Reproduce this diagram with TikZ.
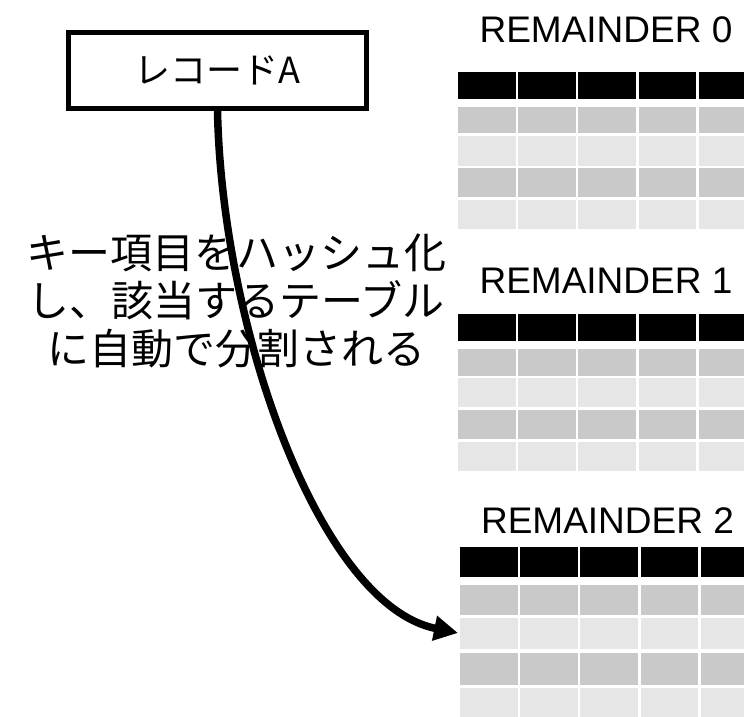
\documentclass[tikz,border=0pt]{standalone}
\usepackage{fontspec}
\setmainfont{Liberation Sans}
\newfontfamily\jp{Noto Sans CJK JP}
\usetikzlibrary{arrows.meta}
\definecolor{hdrc}{HTML}{000000}
\definecolor{dkc}{HTML}{C9C9C9}
\definecolor{ltc}{HTML}{E6E6E6}
\begin{document}
\begin{tikzpicture}[x=1pt,y=-1pt,
  recbox/.style={draw, line width=5pt, minimum width=298pt, minimum height=76pt, inner sep=0pt, font=\jp\fontsize{36}{42}\selectfont},
  remlabel/.style={anchor=base, inner sep=0pt, font=\fontsize{37}{44}\selectfont},
  desc/.style={align=center, inner sep=0pt, font=\jp\fontsize{42}{48}\selectfont},
  flow/.style={line width=7.5pt, -{Triangle[length=24pt,width=24pt]}}]
\clip (0,0) rectangle (744,717);
\fill[white] (0,0) rectangle (744,717);
% table 0
\foreach \ya/\yb/\c in {72/98.7/hdrc, 106.7/133.3/dkc, 136/165.7/ltc, 168/197/dkc, 200/229/ltc}
  \foreach \i in {0,...,4}
    \fill[\c] ({458+60.2*\i},\ya) rectangle ({458+60.2*\i+57.7},\yb);
% table 1
\foreach \ya/\yb/\c in {314/340.7/hdrc, 349/375.7/dkc, 378/407/ltc, 410/439/dkc, 442/471/ltc}
  \foreach \i in {0,...,4}
    \fill[\c] ({458+60.2*\i},\ya) rectangle ({458+60.2*\i+57.7},\yb);
% table 2
\foreach \ya/\yb/\c in {546.7/576.7/hdrc, 585/614.7/dkc, 617.7/649.3/ltc, 652.7/684.7/dkc, 688/720/ltc}
  \foreach \i in {0,...,4}
    \fill[\c] ({460+60.2*\i},\ya) rectangle ({460+60.2*\i+57.7},\yb);
\node[remlabel] (r0) at (606,42.7) {REMAINDER 0};
\node[remlabel] (r1) at (606,293) {REMAINDER 1};
\node[remlabel] (r2) at (607.5,533) {REMAINDER 2};
\node[recbox] (rec) at (217.5,70.5) {レコードA};
\node[desc] (txt) at (236,301) {キー項目をハッシュ化\\し、該当するテーブル\\に自動で分割される};
\coordinate (tgt) at (458,633);
\draw[flow] (rec.south) .. controls (222,330) and (320,605) .. (tgt);
\end{tikzpicture}
\end{document}
